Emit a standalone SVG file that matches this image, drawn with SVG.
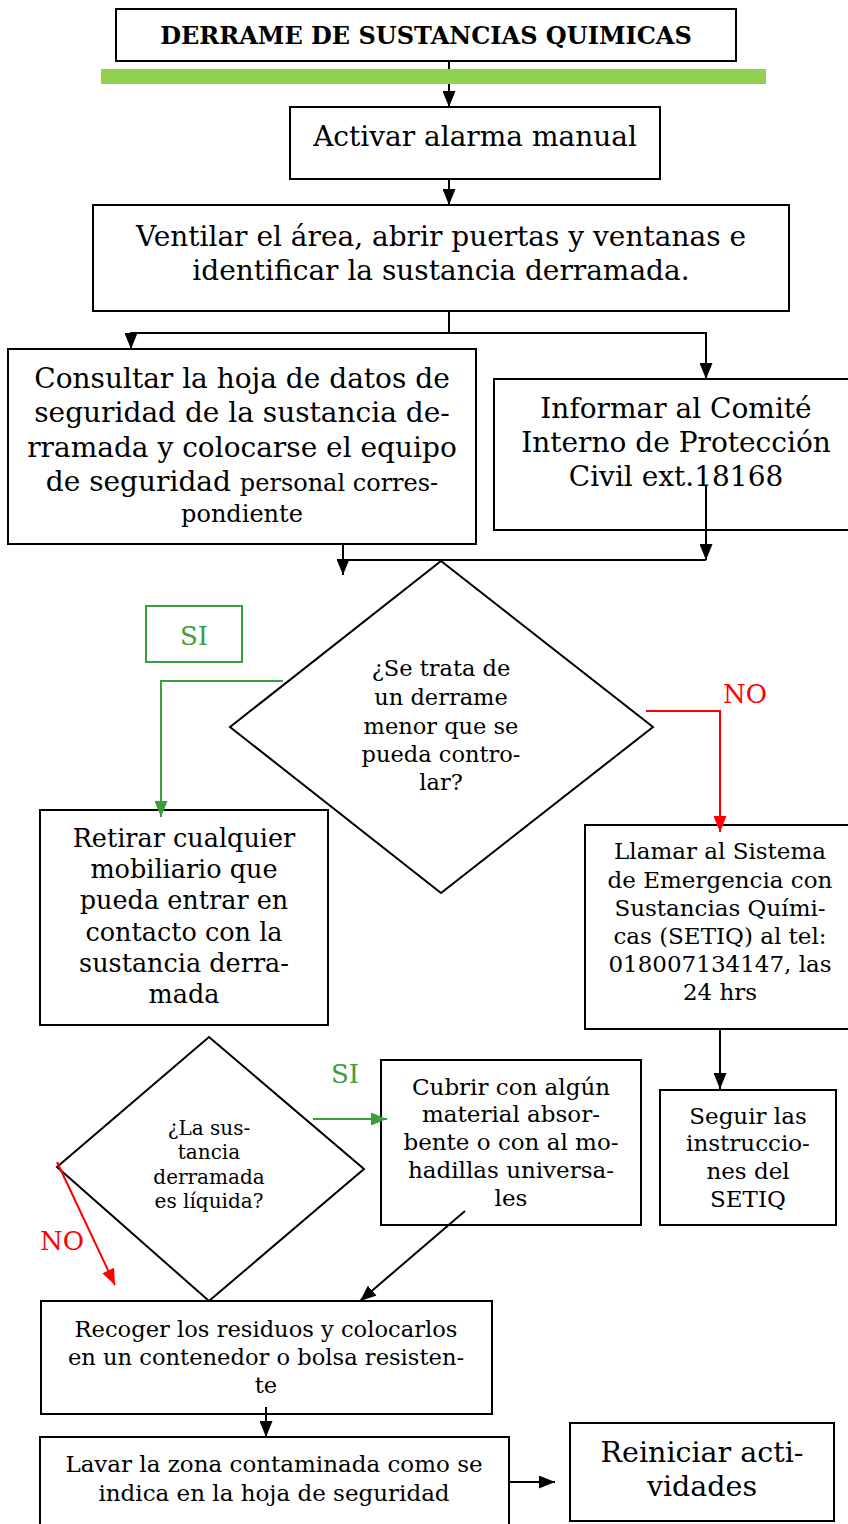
<svg xmlns="http://www.w3.org/2000/svg" width="848" height="1524" viewBox="0 0 848 1524">
<style>
.box{fill:#fff;stroke:#000;stroke-width:2}
.t{font-family:"DejaVu Serif","Liberation Serif",serif;fill:#000;text-anchor:middle}
.ln{stroke:#000;stroke-width:2;fill:none}
.g{stroke:#3a9e3a;stroke-width:2;fill:none}
.r{stroke:#ff0000;stroke-width:2;fill:none}
</style>
<defs>
<marker id="ab" viewBox="0 0 16 13" refX="16" refY="6.5" markerWidth="16" markerHeight="13" markerUnits="userSpaceOnUse" orient="auto"><path d="M0,0L16,6.5L0,13z" fill="#000"/></marker>
<marker id="ag" viewBox="0 0 16 13" refX="16" refY="6.5" markerWidth="16" markerHeight="13" markerUnits="userSpaceOnUse" orient="auto"><path d="M0,0L16,6.5L0,13z" fill="#3a9e3a"/></marker>
<marker id="ar" viewBox="0 0 16 13" refX="16" refY="6.5" markerWidth="16" markerHeight="13" markerUnits="userSpaceOnUse" orient="auto"><path d="M0,0L16,6.5L0,13z" fill="#ff0000"/></marker>
</defs>
<rect width="848" height="1524" fill="#fff"/>
<g id="title">
<rect class="box" x="116" y="9" width="620" height="52"/>
<text class="t" x="426" y="44" font-size="24" font-weight="bold">DERRAME DE SUSTANCIAS QUIMICAS</text>
</g>
<g id="alarma">
<rect class="box" x="290" y="107" width="370" height="72"/>
<text class="t" x="475" y="146" font-size="28">Activar alarma manual</text>
</g>
<g id="ventilar">
<rect class="box" x="93" y="205" width="696" height="106"/>
<text class="t" x="441" y="246" font-size="28">Ventilar el área, abrir puertas y ventanas e</text>
<text class="t" x="441" y="280" font-size="28">identificar la sustancia derramada.</text>
</g>
<g id="consultar">
<rect class="box" x="8" y="349" width="468" height="195"/>
<text class="t" x="242" y="388" font-size="28">Consultar la hoja de datos de</text>
<text class="t" x="242" y="422" font-size="28">seguridad de la sustancia de-</text>
<text class="t" x="242" y="457" font-size="28">rramada y colocarse el equipo</text>
<text class="t" x="242" y="491" font-size="28">de seguridad <tspan font-size="24">personal corres-</tspan></text>
<text class="t" x="242" y="522" font-size="24">pondiente</text>
</g>
<g id="informar">
<rect class="box" x="494" y="379" width="360" height="151"/>
<text class="t" x="676" y="418" font-size="28">Informar al Comité</text>
<text class="t" x="676" y="452" font-size="28">Interno de Protección</text>
<text class="t" x="676" y="486" font-size="28">Civil ext.18168</text>
</g>
<g id="decision1">
<path class="box" d="M441,561L653,727L441,893L230,727Z"/>
<text class="t" x="441" y="676" font-size="22.5">¿Se trata de</text>
<text class="t" x="441" y="705" font-size="22.5">un derrame</text>
<text class="t" x="441" y="734" font-size="22.5">menor que se</text>
<text class="t" x="441" y="762" font-size="22.5">pueda contro-</text>
<text class="t" x="441" y="790" font-size="22.5">lar?</text>
</g>
<g id="si1">
<rect x="146" y="606" width="96" height="56" fill="#fff" stroke="#3a9e3a" stroke-width="2"/>
<text class="t" x="194" y="645" font-size="26" style="fill:#3a9e3a">SI</text>
</g>
<text class="t" x="745" y="703" font-size="26" style="fill:#ff0000">NO</text>
<g id="retirar">
<rect class="box" x="40" y="810" width="288" height="215"/>
<text class="t" x="184" y="847" font-size="25.5">Retirar cualquier</text>
<text class="t" x="184" y="878" font-size="25.5">mobiliario que</text>
<text class="t" x="184" y="909" font-size="25.5">pueda entrar en</text>
<text class="t" x="184" y="941" font-size="25.5">contacto con la</text>
<text class="t" x="184" y="972" font-size="25.5">sustancia derra-</text>
<text class="t" x="184" y="1003" font-size="25.5">mada</text>
</g>
<g id="llamar">
<rect class="box" x="585" y="825" width="270" height="204"/>
<text class="t" x="720" y="859" font-size="23">Llamar al Sistema</text>
<text class="t" x="720" y="888" font-size="23">de Emergencia con</text>
<text class="t" x="720" y="916" font-size="23">Sustancias Quími-</text>
<text class="t" x="720" y="944" font-size="23">cas (SETIQ) al tel:</text>
<text class="t" x="720" y="972" font-size="23">018007134147, las</text>
<text class="t" x="720" y="1000" font-size="23">24 hrs</text>
</g>
<g id="seguir">
<rect class="box" x="660" y="1090" width="176" height="135"/>
<text class="t" x="748" y="1124" font-size="23">Seguir las</text>
<text class="t" x="748" y="1151" font-size="23">instruccio-</text>
<text class="t" x="748" y="1179" font-size="23">nes del</text>
<text class="t" x="748" y="1207" font-size="23">SETIQ</text>
</g>
<g id="decision2">
<path class="box" d="M209,1037L364,1169L209,1301L57,1167Z"/>
<text class="t" x="209" y="1135" font-size="20">¿La sus-</text>
<text class="t" x="209" y="1159" font-size="20">tancia</text>
<text class="t" x="209" y="1184" font-size="20">derramada</text>
<text class="t" x="209" y="1208" font-size="20">es líquida?</text>
</g>
<text class="t" x="345" y="1083" font-size="26" style="fill:#3a9e3a">SI</text>
<text class="t" x="62" y="1250" font-size="26" style="fill:#ff0000">NO</text>
<g id="cubrir">
<rect class="box" x="381" y="1060" width="260" height="165"/>
<text class="t" x="511" y="1095" font-size="23">Cubrir con algún</text>
<text class="t" x="511" y="1122" font-size="23">material absor-</text>
<text class="t" x="511" y="1150" font-size="23">bente o con al mo-</text>
<text class="t" x="511" y="1178" font-size="23">hadillas universa-</text>
<text class="t" x="511" y="1206" font-size="23">les</text>
</g>
<g id="recoger">
<rect class="box" x="41" y="1301" width="451" height="113"/>
<text class="t" x="266" y="1337" font-size="22.6">Recoger los residuos y colocarlos</text>
<text class="t" x="266" y="1365" font-size="22.6">en un contenedor o bolsa resisten-</text>
<text class="t" x="266" y="1393" font-size="22.6">te</text>
</g>
<g id="lavar">
<rect class="box" x="40" y="1437" width="469" height="100"/>
<text class="t" x="274" y="1472" font-size="23">Lavar la zona contaminada como se</text>
<text class="t" x="274" y="1501" font-size="23">indica en la hoja de seguridad</text>
</g>
<g id="reiniciar">
<rect class="box" x="570" y="1423" width="264" height="98"/>
<text class="t" x="702" y="1462" font-size="28.5">Reiniciar acti-</text>
<text class="t" x="702" y="1496" font-size="28.5">vidades</text>
</g>
<g id="connectors">
<path class="ln" d="M449,61V107" marker-end="url(#ab)"/>
<path class="ln" d="M449,179V205" marker-end="url(#ab)"/>
<path class="ln" d="M449,311V333H131V349" marker-end="url(#ab)"/>
<path class="ln" d="M449,333H706V379" marker-end="url(#ab)"/>
<path class="ln" d="M343,544V575" marker-end="url(#ab)"/>
<path class="ln" d="M706,485V560" marker-end="url(#ab)"/>
<path class="ln" d="M343,560H706"/>
<path class="g" d="M283,681H161V817" marker-end="url(#ag)"/>
<path class="r" d="M646,711H720V832" marker-end="url(#ar)"/>
<path class="ln" d="M720,1029V1089" marker-end="url(#ab)"/>
<path class="g" d="M313,1119H387" marker-end="url(#ag)"/>
<path class="ln" d="M465,1211L360,1301" marker-end="url(#ab)"/>
<path class="r" d="M57,1162L115,1285" marker-end="url(#ar)"/>
<path class="ln" d="M266,1407V1437" marker-end="url(#ab)"/>
<path class="ln" d="M509,1482H555" marker-end="url(#ab)"/>
</g>
<rect x="101" y="69" width="665" height="15" fill="#92d050"/>
</svg>
